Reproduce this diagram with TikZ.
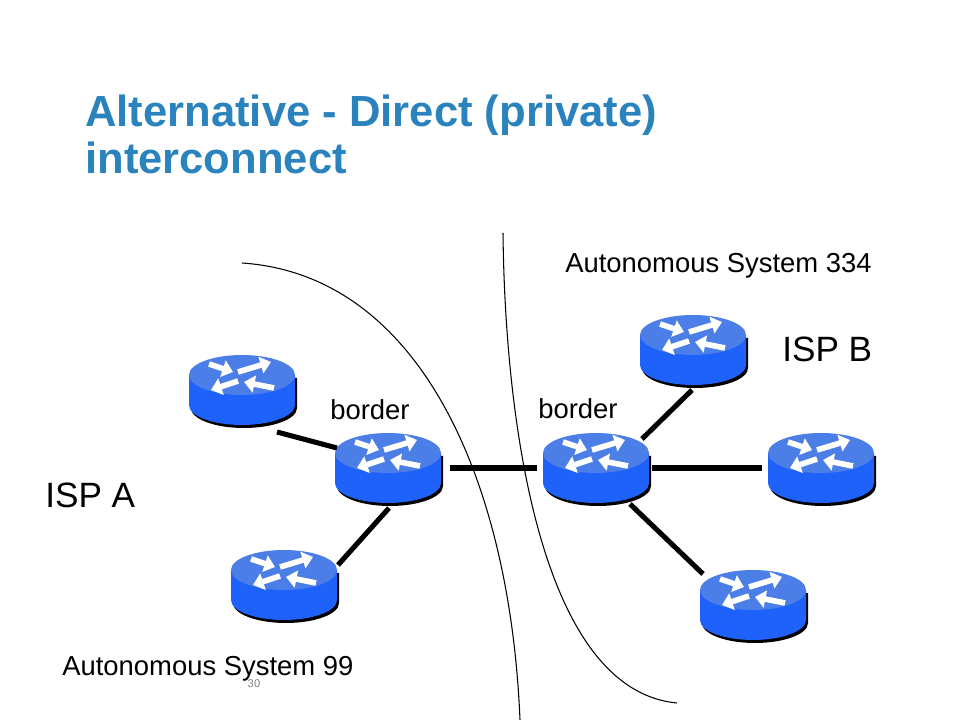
\documentclass[tikz,border=0pt]{standalone}
\usepackage{fontspec}
\setmainfont{Liberation Sans}
\usepackage{tikz}
\usetikzlibrary{arrows.meta}

\definecolor{titleblue}{RGB}{43,131,190}
\definecolor{rtrtop}{RGB}{76,126,232}
\definecolor{rtrside}{RGB}{30,98,250}

\tikzset{
  rbox/.style={minimum width=2.7cm, minimum height=1.75cm, inner sep=0pt},
  rarrow/.style={white, line width=4pt, -{Triangle[length=7.5pt,width=12pt]}},
  link/.style={line width=3.6pt},
  asline/.style={line width=0.75pt},
  router/.pic={
    \begin{scope}[shift={(0,-15)}]
      \fill[black,shift={(2,3)}] (-53,0) -- (-53,30) arc[start angle=180,end angle=0,x radius=53,y radius=20] -- (53,0) -- cycle;
      \fill[rtrside] (-53,0) -- (-53,30) arc[start angle=180,end angle=0,x radius=53,y radius=20] -- (53,0) -- cycle;
      \fill[rtrtop] (0,0) ellipse[x radius=53,y radius=20];
      \draw[rarrow] (-33,-11) -- (-9,-3);
      \draw[rarrow] (-4,-3) -- (29,-13);
      \draw[rarrow] (-4,6) -- (-31,15);
      \draw[rarrow] (32,13) -- (2,7);
    \end{scope}
  }
}

\begin{document}
\begin{tikzpicture}[x=0.025cm, y=-0.025cm]
     \tikzstyle{every node}=[font=\fontsize{19.5}{23}\selectfont]
     \tikzstyle{titletext}=[font=\fontsize{31}{34}\selectfont\bfseries, text=titleblue, inner sep=0pt]
     \useasboundingbox (0,0) rectangle (960,720);
      % AS boundaries
      \draw [asline] (242,263) .. controls (420,275) and (510,480) .. (520,720);
      \draw [asline] (503,233) .. controls (505,420) and (540,690) .. (677,703);
      % routers
      \node[rbox] (r1) at (242,390) {};
      \node[rbox] (bA) at (388,468) {};
      \node[rbox] (r3) at (284,585) {};
      \node[rbox] (bB) at (596,468) {};
      \node[rbox] (r5) at (693,350) {};
      \node[rbox] (r6) at (821,468) {};
      \node[rbox] (r7) at (753,605) {};
      \pic at (r1) {router};
      \pic at (bA) {router};
      \pic at (r3) {router};
      \pic at (bB) {router};
      \pic at (r5) {router};
      \pic at (r6) {router};
      \pic at (r7) {router};
      % links
      \draw [link] ([shift={(35,42)}]r1.center) -- ([shift={(-51,-20)}]bA.center);
      \draw [link] ([shift={(1,40)}]bA.center) -- ([shift={(54,-20)}]r3.center);
      \draw [link] ([shift={(62,0)}]bA.center) -- ([shift={(-59,0)}]bB.center);
      \draw [link] ([shift={(46,-29)}]bB.center) -- ([shift={(-1,40)}]r5.center);
      \draw [link] ([shift={(56,0)}]bB.center) -- ([shift={(-59,0)}]r6.center);
      \draw [link] ([shift={(34,36)}]bB.center) -- ([shift={(-50,-31)}]r7.center);
      % text
      \node[titletext, anchor=base west] (title1) at (85,127) {Alternative - Direct (private)};
      \node[titletext, anchor=base west] (title2) at (85,174) {interconnect};
      \node[anchor=base west, inner sep=0pt] (as334) at (565,273) {Autonomous System 334};
      \node[anchor=base west, inner sep=0pt, font=\fontsize{25}{30}\selectfont] (ispB) at (782,362) {ISP B};
      \node[anchor=base west, inner sep=0pt, font=\fontsize{25}{30}\selectfont] (ispA) at (45,508) {ISP A};
      \node[anchor=base west, inner sep=0pt] (bAlab) at (330,420) {border};
      \node[anchor=base west, inner sep=0pt] (bBlab) at (538,419) {border};
      \node[anchor=base west, inner sep=0pt] (as99) at (62,675) {Autonomous System 99};
      \node[anchor=base, inner sep=0pt, text=gray, font=\fontsize{8}{9}\selectfont] (pnum) at (254,687) {30};
    \end{tikzpicture}
\end{document}
